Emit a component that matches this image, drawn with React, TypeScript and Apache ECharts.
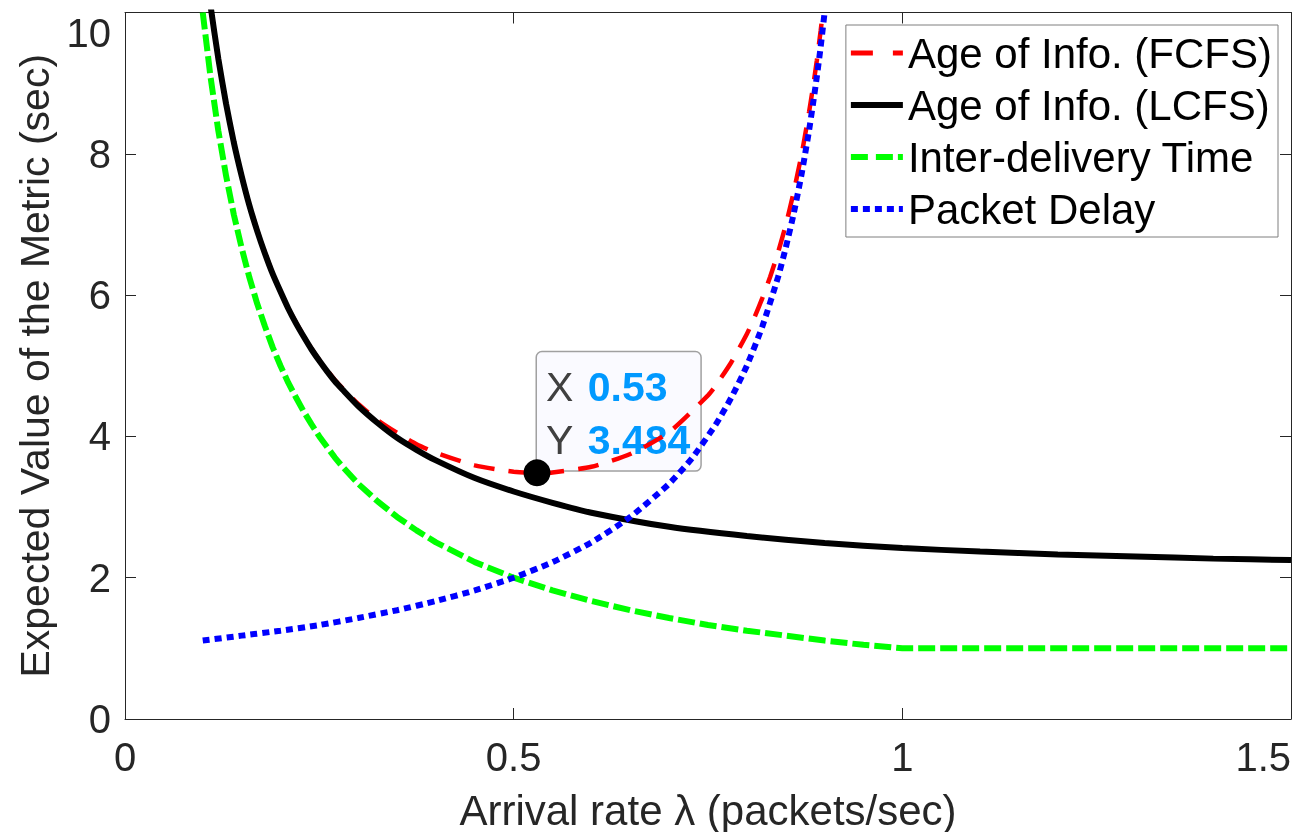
import React, { useEffect, useRef } from 'react';
import * as echarts from 'echarts';

// Arrival rate λ (packets/sec) and expected value of each metric (sec)
const fcfsX = [0.1, 0.11, 0.12, 0.13, 0.14, 0.15, 0.16, 0.17, 0.18, 0.19, 0.2, 0.21, 0.22, 0.23, 0.24, 0.25, 0.26, 0.27, 0.28, 0.3, 0.325, 0.35, 0.375, 0.4, 0.45, 0.5, 0.53, 0.55, 0.6, 0.65, 0.7, 0.75, 0.76, 0.78, 0.8, 0.81, 0.82, 0.83, 0.84, 0.85, 0.86, 0.87, 0.875, 0.88, 0.885, 0.89, 0.895, 0.9];
const fcfsY = [11.01, 10.1, 9.35, 8.71, 8.17, 7.69, 7.28, 6.92, 6.6, 6.31, 6.05, 5.82, 5.61, 5.42, 5.24, 5.08, 4.94, 4.8, 4.68, 4.46, 4.23, 4.05, 3.89, 3.77, 3.59, 3.5, 3.484, 3.49, 3.57, 3.75, 4.06, 4.58, 4.72, 5.05, 5.45, 5.69, 5.96, 6.26, 6.6, 6.99, 7.45, 7.97, 8.27, 8.59, 8.94, 9.32, 9.75, 10.21];

const lcfsX = [0.1, 0.11, 0.12, 0.13, 0.14, 0.15, 0.16, 0.17, 0.18, 0.19, 0.2, 0.21, 0.22, 0.23, 0.24, 0.25, 0.26, 0.27, 0.28, 0.3, 0.325, 0.35, 0.375, 0.4, 0.45, 0.5, 0.55, 0.6, 0.7, 0.8, 0.9, 1.0, 1.1, 1.2, 1.3, 1.4, 1.5];
const lcfsY = [11.01, 10.1, 9.35, 8.71, 8.16, 7.69, 7.27, 6.91, 6.59, 6.3, 6.05, 5.81, 5.6, 5.41, 5.23, 5.07, 4.92, 4.78, 4.66, 4.43, 4.19, 3.98, 3.81, 3.66, 3.41, 3.22, 3.06, 2.92, 2.72, 2.59, 2.49, 2.42, 2.37, 2.33, 2.3, 2.27, 2.25];

const interX = [0.1, 0.11, 0.12, 0.13, 0.14, 0.15, 0.16, 0.17, 0.18, 0.19, 0.2, 0.21, 0.22, 0.23, 0.24, 0.25, 0.26, 0.27, 0.28, 0.3, 0.325, 0.35, 0.375, 0.4, 0.45, 0.5, 0.55, 0.6, 0.65, 0.7, 0.75, 0.8, 0.85, 0.9, 0.95, 1.0, 1.5];
const interY = [10, 9.09, 8.33, 7.69, 7.14, 6.67, 6.25, 5.88, 5.56, 5.26, 5.0, 4.76, 4.55, 4.35, 4.17, 4.0, 3.85, 3.7, 3.57, 3.33, 3.08, 2.86, 2.67, 2.5, 2.22, 2.0, 1.82, 1.67, 1.54, 1.43, 1.33, 1.25, 1.18, 1.11, 1.05, 1.0, 1.0];

const delayX = [0.1, 0.15, 0.2, 0.25, 0.3, 0.35, 0.4, 0.45, 0.5, 0.55, 0.6, 0.65, 0.7, 0.73, 0.76, 0.78, 0.8, 0.82, 0.84, 0.85, 0.86, 0.87, 0.875, 0.88, 0.885, 0.89, 0.895, 0.9];
const delayY = [1.11, 1.18, 1.25, 1.33, 1.43, 1.54, 1.67, 1.82, 2.0, 2.22, 2.5, 2.86, 3.33, 3.7, 4.17, 4.55, 5.0, 5.56, 6.25, 6.67, 7.14, 7.69, 8.0, 8.33, 8.7, 9.09, 9.52, 10.0];

const seriesNames = ['Age of Info. (FCFS)', 'Age of Info. (LCFS)', 'Inter-delivery Time', 'Packet Delay'];

// data tip
const tipX = 0.53;
const tipY = 3.484;

// axes
const xMin = 0, xMax = 1.5, xStep = 0.5;
const yMin = 0, yMax = 10, yStep = 2;
const xName = 'Arrival rate λ (packets/sec)';
const yName = 'Expected Value of the Metric (sec)';

// legend sample glyphs (dash patterns of each line)
const legendIcons = [
  'path://M0,0h22v5h-22zM42,0h10v5h-10z',
  'path://M0,0h52v6h-52z',
  'path://M0,0h17v6h-17zM25,0h17v6h-17zM47,0h5v6h-5z',
  'path://M0,0h7v6h-7zM12,0h7v6h-7zM24,0h7v6h-7zM36,0h7v6h-7zM48,0h4v6h-4z',
];

const zip = (xs: number[], ys: number[]) => xs.map((x, i) => [x, ys[i]]);

export default function App() {
  const ref = useRef<HTMLDivElement>(null);
  useEffect(() => {
    const chart = echarts.init(ref.current!, null, { renderer: 'svg' });
    const font = '"Liberation Sans", Arial, Helvetica, sans-serif';
    const axisColor = '#262626';
    const mkAxisCommon = () => ({
      axisLine: { show: true, onZero: false, lineStyle: { color: axisColor, width: 1 } },
      axisTick: { show: true, inside: true, length: 11, lineStyle: { color: axisColor, width: 1 } },
      splitLine: { show: false },
    });
    chart.setOption({
      animation: false,
      textStyle: { fontFamily: font },
      grid: { left: 125, right: 18, top: 12.5, bottom: 113, show: false, containLabel: false, outerBoundsMode: 'none' },
      xAxis: [
        {
          type: 'value', min: xMin, max: xMax, interval: xStep,
          name: xName, nameLocation: 'middle', nameGap: 70,
          nameTextStyle: { fontSize: 42, color: axisColor, fontFamily: font },
          axisLabel: { fontSize: 40, color: axisColor, margin: 18, fontFamily: font, alignMaxLabel: 'right' },
          ...mkAxisCommon(),
        },
        {
          type: 'value', position: 'top', min: xMin, max: xMax, interval: xStep,
          axisLabel: { show: false },
          ...mkAxisCommon(),
        },
      ],
      yAxis: [
        {
          type: 'value', min: yMin, max: yMax, interval: yStep,
          name: yName, nameLocation: 'middle', nameGap: 64, nameRotate: 90,
          nameTextStyle: { fontSize: 41, color: axisColor, fontFamily: font },
          axisLabel: { fontSize: 40, color: axisColor, margin: 14, fontFamily: font, verticalAlignMaxLabel: 'top' },
          ...mkAxisCommon(),
        },
        {
          type: 'value', position: 'right', min: yMin, max: yMax, interval: yStep,
          axisLabel: { show: false },
          ...mkAxisCommon(),
        },
      ],
      legend: {
        data: seriesNames.map((n, i) => ({ name: n, icon: legendIcons[i] })),
        orient: 'vertical',
        right: 31,
        top: 25,
        itemWidth: 52,
        itemHeight: 6,
        itemGap: 10,
        padding: [7, 6, 7, 5],
        backgroundColor: '#ffffff',
        borderColor: '#7f7f7f',
        borderWidth: 1,
        textStyle: { fontSize: 42, color: '#000', fontFamily: font },
        selectedMode: false,
      },
      series: [
        {
          name: seriesNames[0], type: 'line', data: zip(fcfsX, fcfsY),
          symbol: 'none', showSymbol: false, smooth: 0.2,
          lineStyle: { color: '#ff0000', width: 4.5, type: [21, 14], cap: 'butt' },
          itemStyle: { color: '#ff0000' },
          markPoint: {
            z: 3,
            symbol: 'circle', symbolSize: 1,
            itemStyle: { color: 'rgba(0,0,0,0)' },
            data: [{
              coord: [tipX, tipY],
              label: {
                show: true,
                position: [0.5, -2],
                align: 'left',
                verticalAlign: 'bottom',
                formatter: `{k|X }{v|${tipX}}\n{k|Y }{v|${tipY}}`,
                backgroundColor: '#fafaff',
                borderColor: '#a0a0a0',
                borderWidth: 1.5,
                borderRadius: 5,
                padding: [8, 10, 4, 9],
                rich: {
                  k: { fontSize: 41, color: '#404040', fontFamily: font, lineHeight: 53, padding: [0, 3, 0, 0] },
                  v: { fontSize: 41, color: '#0099ff', fontWeight: 'bold', fontFamily: font, lineHeight: 53 },
                },
              },
            }],
          },
        },
        {
          name: seriesNames[1], type: 'line', data: zip(lcfsX, lcfsY),
          symbol: 'none', showSymbol: false, smooth: 0.2,
          lineStyle: { color: '#000000', width: 6 },
          itemStyle: { color: '#000000' },
        },
        {
          name: seriesNames[2], type: 'line', data: zip(interX, interY),
          symbol: 'none', showSymbol: false,
          lineStyle: { color: '#00ff00', width: 6, type: [17, 5], cap: 'butt' },
          itemStyle: { color: '#00ff00' },
        },
        {
          name: seriesNames[3], type: 'line', data: zip(delayX, delayY),
          symbol: 'none', showSymbol: false, smooth: 0.2,
          lineStyle: { color: '#0000ff', width: 6, type: [7, 5], cap: 'butt' },
          itemStyle: { color: '#0000ff' },
        },
        {
          name: 'tip', type: 'scatter', z: 10,
          data: [[tipX, tipY]],
          symbol: 'circle', symbolSize: 27,
          itemStyle: { color: '#000000', opacity: 1 },
          silent: true,
        },
      ],
    });
    return () => chart.dispose();
  }, []);
  return <div ref={ref} style={{ position: 'fixed', left: 0, top: 0, width: 1309, height: 832 }} />;
}
